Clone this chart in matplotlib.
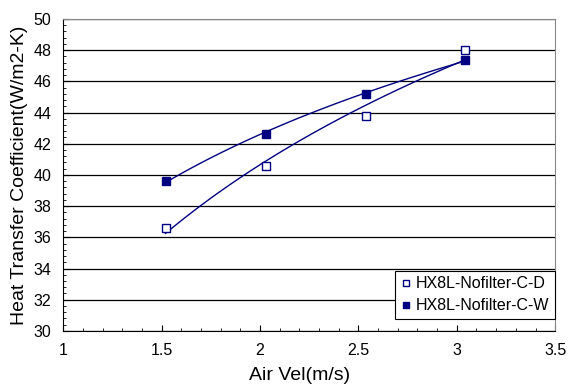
import matplotlib
matplotlib.use("Agg")
import matplotlib.pyplot as plt
import numpy as np
from matplotlib.ticker import MultipleLocator

plt.rcParams["font.family"] = ["Liberation Sans", "DejaVu Sans"]

# ---- Data ----
air_vel = [1.52, 2.03, 2.54, 3.04]
htc_dry = [36.6, 40.6, 43.8, 48.0]   # HX8L-Nofilter-C-D
htc_wet = [39.6, 42.65, 45.2, 47.4]  # HX8L-Nofilter-C-W
labels = ["HX8L-Nofilter-C-D", "HX8L-Nofilter-C-W"]
xtick_labels = ["1", "1.5", "2", "2.5", "3", "3.5"]

NAVY = "#000080"

fig = plt.figure(figsize=(5.7, 3.87), dpi=100)
ax = fig.add_axes([0.111, 0.145, 0.863, 0.806])

# logarithmic trendlines over the data range
xs = np.linspace(min(air_vel), max(air_vel), 100)
for ys in (htc_dry, htc_wet):
    coef = np.polyfit(np.log(air_vel), ys, 1)
    ax.plot(xs, np.polyval(coef, np.log(xs)), color=NAVY, lw=1.0, zorder=3)

ax.plot(air_vel, htc_dry, "s", ms=6, mfc="white", mec=NAVY, mew=1.0,
        ls="none", label=labels[0], zorder=4)
ax.plot(air_vel, htc_wet, "s", ms=6, mfc=NAVY, mec=NAVY,
        ls="none", label=labels[1], zorder=4)

ax.set_xlim(1, 3.5)
ax.set_ylim(30, 50)
ax.set_xticks([1, 1.5, 2, 2.5, 3, 3.5])
ax.set_xticklabels(xtick_labels)
ax.xaxis.set_minor_locator(MultipleLocator(0.1))
ax.yaxis.set_major_locator(MultipleLocator(2))
ax.yaxis.set_minor_locator(MultipleLocator(0.4))

ax.grid(axis="y", which="major", color="black", lw=0.9)
ax.set_axisbelow(True)

ax.tick_params(axis="both", which="major", direction="in", length=4,
               labelsize=11.5)
ax.tick_params(axis="x", which="major", pad=9)
ax.tick_params(axis="y", which="major", pad=8.5)
ax.tick_params(axis="both", which="minor", direction="in", length=2.5)
ax.tick_params(top=False, right=False, which="both")

for sp in ("top", "right"):
    ax.spines[sp].set_color("#888888")
for sp in ("left", "bottom"):
    ax.spines[sp].set_color("black")

ax.set_xlabel("Air Vel(m/s)", fontsize=14, labelpad=6)
ax.xaxis.label.set_x(0.48)
ax.set_ylabel("Heat Transfer Coefficient(W/m2-K)", fontsize=14, labelpad=4)

leg = ax.legend(loc="lower right", bbox_to_anchor=(1.0, 0.038),
                fontsize=11.5, frameon=True, fancybox=False,
                edgecolor="black", framealpha=1, handlelength=0.7,
                handletextpad=0.3, borderpad=0.35, labelspacing=0.45,
                borderaxespad=0, markerscale=0.75)
leg.get_frame().set_linewidth(0.8)

fig.savefig("out.png", dpi=100, facecolor="white")
